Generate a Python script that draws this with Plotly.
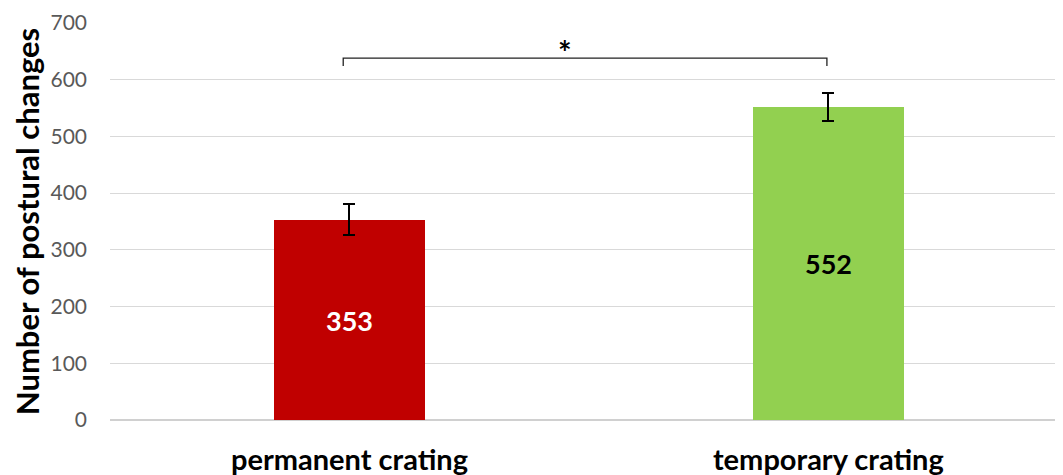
import plotly.graph_objects as go

categories = ["permanent crating", "temporary crating"]
values = [353, 552]
errors = [27, 25]
bar_colors = ["#C00000", "#92D050"]
label_colors = ["white", "black"]
y_ticks = [0, 100, 200, 300, 400, 500, 600, 700]
sig_label = "*"
bracket_y = 638
bracket_tick = 624

FONT = "Lato, Open Sans, sans-serif"

fig = go.Figure()
fig.add_trace(go.Bar(
    x=[0, 1], y=values, width=0.315,
    marker=dict(color=bar_colors, line=dict(width=0)),
    text=[str(v) for v in values], textposition="inside", insidetextanchor="middle",
    textfont=dict(family=FONT, size=27, color=label_colors, weight="bold"),
    error_y=dict(type="data", array=errors, visible=True, color="black", thickness=2, width=6),
    showlegend=False,
))
# significance bracket
fig.add_trace(go.Scatter(
    x=[-0.013, -0.013, 0.997, 0.997], y=[bracket_tick, bracket_y, bracket_y, bracket_tick],
    mode="lines", line=dict(color="#222222", width=1.3), showlegend=False, hoverinfo="skip",
))
fig.add_annotation(x=0.45, y=bracket_y, text=sig_label, showarrow=False, yanchor="bottom", yshift=-16,
                   font=dict(family=FONT, size=32, color="black", weight="bold"))

fig.update_layout(
    width=1055, height=467,
    margin=dict(l=102, r=0, t=15, b=55),
    plot_bgcolor="white", paper_bgcolor="white",
    bargap=0,
    xaxis=dict(range=[-0.5, 1.49], tickmode="array", tickvals=[0, 1], ticktext=categories,
               tickfont=dict(family=FONT, size=29, color="black", weight="bold"),
               showgrid=False, zeroline=False, showline=False, ticks="", ticklabelstandoff=20,
               automargin=False),
    yaxis=dict(range=[0, 700], tickvals=y_ticks, showgrid=True, gridcolor="#d9d9d9", gridwidth=1,
               zeroline=True, zerolinecolor="#d0d0d0", zerolinewidth=1.5,
               tickfont=dict(family=FONT, size=21, color="#595959"),
               ticks="", ticklabelstandoff=22, automargin=False,
               title=dict(text="Number of postural changes", standoff=12,
                          font=dict(family=FONT, size=31, color="black", weight="bold"))),
)
fig.write_html("out.html")
